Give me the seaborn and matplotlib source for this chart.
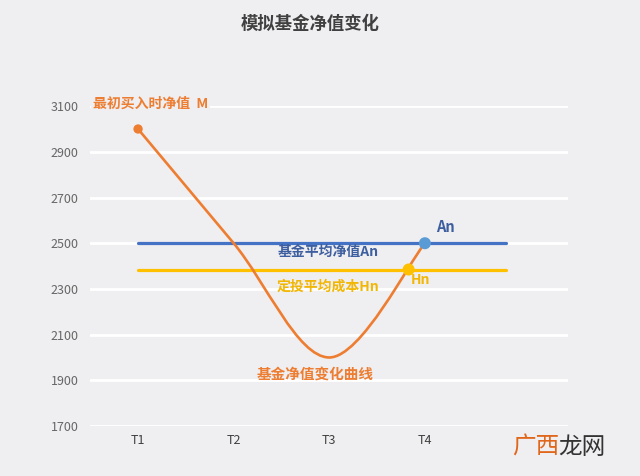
import matplotlib
matplotlib.use("Agg")
import matplotlib.pyplot as plt
import seaborn as sns
import pandas as pd
from matplotlib.path import Path
from matplotlib.patches import PathPatch

# data
periods = ["T1", "T2", "T3", "T4", ""]
nav_values = [3000, 2500, 2000, 2500]        # fund NAV at T1..T4
avg_nav = 2500                                # An
avg_cost = 2385                               # Hn
avg_cost_x = 3.83                             # where the curve meets Hn
line_span = [1, 4.85]                         # extent of the An / Hn lines
yticks = list(range(1700, 3101, 200))

bg = "#efeef1"
orange = "#ed7d31"
blue = "#4472c4"
light_blue = "#5b9bd5"
gold = "#ffc000"

sns.set_theme(style="whitegrid", rc={
    "axes.facecolor": bg, "figure.facecolor": bg,
    "grid.color": "white", "grid.linewidth": 2.0,
    "axes.edgecolor": bg,
})
plt.rcParams["font.family"] = ["Noto Sans CJK SC", "DejaVu Sans"]

fig = plt.figure(figsize=(6.4, 4.76), dpi=100)
ax = fig.add_axes([0.141, 0.105, 0.747, 0.672])

# horizontal reference lines
lines_df = pd.DataFrame({
    "x": line_span * 2,
    "y": [avg_nav, avg_nav, avg_cost, avg_cost],
    "name": ["An", "An", "Hn", "Hn"],
})
sns.lineplot(data=lines_df, x="x", y="y", hue="name",
             palette={"An": blue, "Hn": gold}, linewidth=2.3,
             legend=False, ax=ax, zorder=2)

# smooth NAV curve (Excel style smoothing, drawn as bezier path)
xs = list(range(1, len(nav_values) + 1))
pts = list(zip(xs, nav_values))
ext = [pts[0]] + pts + [pts[-1]]
verts = [pts[0]]
codes = [Path.MOVETO]
for i in range(1, len(ext) - 2):
    p0, p1, p2, p3 = ext[i - 1], ext[i], ext[i + 1], ext[i + 2]
    c1 = (p1[0] + (p2[0] - p0[0]) / 6, p1[1] + (p2[1] - p0[1]) / 6)
    c2 = (p2[0] - (p3[0] - p1[0]) / 6, p2[1] - (p3[1] - p1[1]) / 6)
    verts += [c1, c2, p2]
    codes += [Path.CURVE4] * 3
ax.add_patch(PathPatch(Path(verts, codes), facecolor="none",
                       edgecolor=orange, linewidth=1.9, zorder=3))

# markers
sns.scatterplot(x=[xs[0]], y=[nav_values[0]], color=orange, s=45,
                edgecolor="none", ax=ax, zorder=4)
sns.scatterplot(x=[xs[-1]], y=[avg_nav], color=light_blue, s=75,
                edgecolor="none", ax=ax, zorder=4)
sns.scatterplot(x=[avg_cost_x], y=[avg_cost], color=gold, s=75,
                edgecolor="none", ax=ax, zorder=4)

ax.set_xlim(0.5, 5.5)
ax.set_ylim(1700, 3100)
ax.set_xticks(range(1, 6))
ax.set_xticklabels(periods)
ax.set_yticks(yticks)
ax.grid(axis="x", visible=False)
ax.tick_params(axis="y", labelsize=9, labelcolor="#666666", pad=8.5, length=0)
ax.tick_params(axis="x", labelsize=9, labelcolor="#404040", pad=6, length=0)
ax.set_xlabel("")
ax.set_ylabel("")
for s in ax.spines.values():
    s.set_visible(False)

# annotations
box = dict(facecolor=bg, edgecolor="none", pad=1.5)
fig.text(310 / 640, 1 - 24 / 476, "模拟基金净值变化", ha="center", va="center",
         fontsize=12.5, fontweight="bold", color="#404040")
fig.text(93 / 640, 1 - 104 / 476, "最初买入时净值  M", ha="left", va="center",
         fontsize=10, fontweight="bold", color=orange, bbox=box)
fig.text(436 / 640, 1 - 227 / 476, "An", ha="left", va="center",
         fontsize=10.5, fontweight="bold", color="#3d5f9f")
fig.text(278 / 640, 1 - 252 / 476, "基金平均净值An", ha="left", va="center",
         fontsize=10, fontweight="bold", color="#3d5f9f")
fig.text(277 / 640, 1 - 287 / 476, "定投平均成本Hn", ha="left", va="center",
         fontsize=10, fontweight="bold", color="#f2b705")
fig.text(411 / 640, 1 - 280 / 476, "Hn", ha="left", va="center",
         fontsize=10, fontweight="bold", color="#f2b705")
fig.text(257 / 640, 1 - 374 / 476, "基金净值变化曲线", ha="left", va="center",
         fontsize=10.5, fontweight="bold", color=orange)

# watermark
fig.text(512 / 640, 1 - 447 / 476, "广西", ha="left", va="center",
         fontsize=17, color="#e0661a")
fig.text(558 / 640, 1 - 447 / 476, "龙网", ha="left", va="center",
         fontsize=17, color="#333333")

fig.savefig("out.png", dpi=100, facecolor=bg)
